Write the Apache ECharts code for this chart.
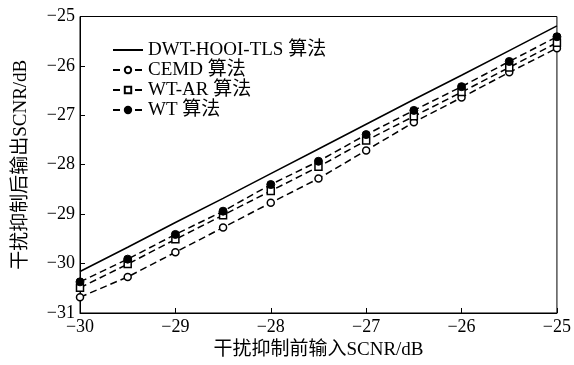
<!DOCTYPE html>
<html><head><meta charset="utf-8">
<script src="https://cdn.jsdelivr.net/npm/echarts@6/dist/echarts.min.js"></script>
<style>html,body{margin:0;padding:0;background:#fff}#c{width:574px;height:365px}</style>
</head><body><div id="c"></div>
<script>
const xValues = [-30, -29.5, -29, -28.5, -28, -27.5, -27, -26.5, -26, -25.5, -25];
const dwtHooiTls = [-30.16, -29.67, -29.17, -28.68, -28.18, -27.68, -27.18, -26.68, -26.19, -25.69, -25.19];
const cemd = [-30.68, -30.27, -29.77, -29.27, -28.77, -28.28, -27.71, -27.14, -26.64, -26.13, -25.64];
const wtAr = [-30.49, -30.01, -29.51, -29.02, -28.53, -28.04, -27.51, -27.02, -26.53, -26.03, -25.53];
const wt = [-30.37, -29.91, -29.41, -28.94, -28.40, -27.93, -27.39, -26.90, -26.42, -25.91, -25.41];
const seriesNames = ['DWT-HOOI-TLS 算法', 'CEMD 算法', 'WT-AR 算法', 'WT 算法'];

const FONT = "'Liberation Serif', 'Noto Sans CJK SC', serif";
const fmt = v => String(v).replace('-', '\u2212');
const pairs = arr => xValues.map((x, i) => [x, arr[i]]);

const chart = echarts.init(document.getElementById('c'));
const dashed = { type: [7, 4], width: 1.5, color: '#000' };
chart.setOption({
  animation: false,
  textStyle: { fontFamily: FONT },
  grid: { left: 80, right: 15, top: 16.5, bottom: 51, show: true, borderColor: '#000', borderWidth: 1 },
  legend: {
    left: 112, top: 40, padding: 0, orient: 'vertical', itemGap: 0, itemWidth: 30, itemHeight: 8,
    textStyle: { fontFamily: FONT, fontSize: 19, lineHeight: 20, color: '#000' },
    data: [
      { name: seriesNames[0], itemStyle: { opacity: 0 } },
      seriesNames[1], seriesNames[2], seriesNames[3]
    ]
  },
  xAxis: {
    type: 'value', min: -30, max: -25, interval: 1,
    name: '干扰抑制前输入SCNR/dB', nameLocation: 'middle', nameGap: 28,
    nameTextStyle: { fontFamily: FONT, fontSize: 19, color: '#000' },
    axisLine: { lineStyle: { color: '#000', width: 1 } },
    axisTick: { inside: true, length: 5, lineStyle: { color: '#000' } },
    axisLabel: { formatter: fmt, fontFamily: FONT, fontSize: 18, color: '#000', margin: 5 },
    splitLine: { show: false }
  },
  yAxis: {
    type: 'value', min: -31, max: -25, interval: 1,
    name: '干扰抑制后输出SCNR/dB', nameLocation: 'middle', nameGap: 49,
    nameTextStyle: { fontFamily: FONT, fontSize: 19, color: '#000' },
    axisLine: { show: true, lineStyle: { color: '#000', width: 1 } },
    axisTick: { show: true, inside: true, length: 5, lineStyle: { color: '#000' } },
    axisLabel: { formatter: fmt, fontFamily: FONT, fontSize: 18, color: '#000', margin: 5 },
    splitLine: { show: false }
  },
  series: [
    { name: seriesNames[0], type: 'line', data: pairs(dwtHooiTls), showSymbol: false, symbol: 'none',
      lineStyle: { color: '#000', width: 1.6 }, itemStyle: { color: '#000' } },
    { name: seriesNames[1], type: 'line', data: pairs(cemd), symbol: 'circle', symbolSize: 7,
      lineStyle: dashed, itemStyle: { color: '#fff', borderColor: '#000', borderWidth: 1.5 } },
    { name: seriesNames[2], type: 'line', data: pairs(wtAr), symbol: 'rect', symbolSize: 7,
      lineStyle: dashed, itemStyle: { color: '#fff', borderColor: '#000', borderWidth: 1.5 } },
    { name: seriesNames[3], type: 'line', data: pairs(wt), symbol: 'circle', symbolSize: 8,
      lineStyle: dashed, itemStyle: { color: '#000', borderColor: '#000', borderWidth: 1 } }
  ]
});
</script></body></html>
